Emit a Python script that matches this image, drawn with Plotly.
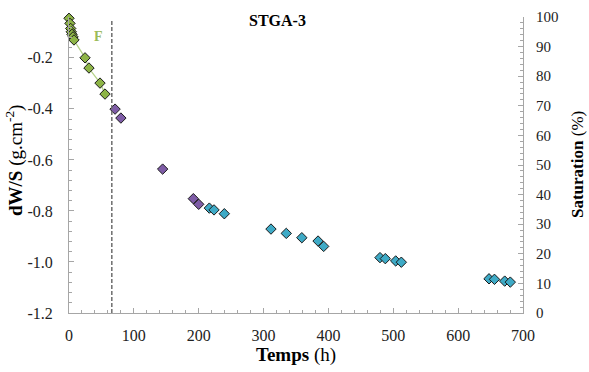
import plotly.graph_objects as go

# --- Data ---
green_t = [0, 1.5, 2.6, 3.5, 4.6, 6.2, 7.7, 24.7, 30.8, 47.8, 55.5]
green_dw = [-0.045, -0.065, -0.085, -0.098, -0.108, -0.118, -0.130, -0.200, -0.240, -0.299, -0.342]

purple_t = [71, 80, 144.4, 191.7, 200]
purple_dw = [-0.401, -0.436, -0.636, -0.752, -0.774]

cyan_t = [216.4, 223.6, 239.5, 311.4, 335, 359, 384, 392.7,
          479.5, 487.7, 503.7, 512.4, 647.6, 656, 671.8, 680.4]
cyan_dw = [-0.789, -0.796, -0.811, -0.871, -0.888, -0.905, -0.918, -0.939,
           -0.983, -0.987, -0.996, -1.001, -1.066, -1.068, -1.075, -1.079]

F_END = 66  # end of phase F (dashed line)
F_LABEL_T, F_LABEL_DW = 46, -0.118

y_ticks = [-0.2, -0.4, -0.6, -0.8, -1.0, -1.2]
y_ticktext = ["-0.2", "-0.4", "-0.6", "-0.8", "-1.0", "-1.2"]

FONT = "Liberation Serif"
AXIS_GRAY = "#a6a6a6"

fig = go.Figure()

fig.add_trace(go.Scatter(
    x=green_t, y=green_dw, mode="lines+markers", cliponaxis=False,
    line=dict(color="#b5d38a", width=1.3, shape="spline", smoothing=0.6),
    marker=dict(symbol="diamond", size=8, color="#8db446",
                line=dict(color="#1a1a1a", width=1)),
    showlegend=False))

fig.add_trace(go.Scatter(
    x=purple_t, y=purple_dw, mode="markers", cliponaxis=False,
    marker=dict(symbol="diamond", size=8, color="#7e5ca6",
                line=dict(color="#1a1a1a", width=1)),
    showlegend=False))

fig.add_trace(go.Scatter(
    x=cyan_t, y=cyan_dw, mode="markers", cliponaxis=False,
    marker=dict(symbol="diamond", size=8, color="#3eaac6",
                line=dict(color="#1a1a1a", width=1)),
    showlegend=False))

# invisible trace to activate the secondary axis
fig.add_trace(go.Scatter(x=[None], y=[None], yaxis="y2", showlegend=False,
                         hoverinfo="skip"))

fig.add_shape(type="line", xref="x", yref="paper", x0=F_END, x1=F_END,
              y0=0, y1=0.987,
              line=dict(color="#6e6e6e", width=1.5, dash="4px,2px"))

fig.add_annotation(x=F_LABEL_T, y=F_LABEL_DW, text="<b>F</b>", showarrow=False,
                   font=dict(family=FONT, size=14, color="#9bbb59"))

fig.add_annotation(xref="paper", yref="paper", x=0.46, y=1.0, yanchor="middle",
                   yshift=-3, text="<b>STGA-3</b>", showarrow=False,
                   font=dict(family=FONT, size=16, color="black"))

# axis titles
fig.add_annotation(xref="paper", yref="paper", x=0.5, y=0, yanchor="middle",
                   yshift=-42, text="<b>Temps</b> (h)", showarrow=False,
                   font=dict(family=FONT, size=19, color="black"))
fig.add_annotation(xref="paper", yref="paper", x=0, y=0.5, xanchor="center",
                   yanchor="middle", xshift=-55, yshift=4, textangle=-90,
                   text="<b>dW/S</b> (g.cm<sup>-2</sup>)", showarrow=False,
                   font=dict(family=FONT, size=19, color="black"))
fig.add_annotation(xref="paper", yref="paper", x=1, y=0.5, xanchor="center",
                   yanchor="middle", xshift=54, textangle=-90,
                   text="<b>Saturation</b> (%)", showarrow=False,
                   font=dict(family=FONT, size=17, color="black"))

axis_common = dict(showgrid=False, zeroline=False, showline=True,
                   linecolor=AXIS_GRAY, linewidth=1, ticks="inside",
                   tickcolor=AXIS_GRAY, ticklen=5, automargin=False)

fig.update_layout(
    width=589, height=372,
    margin=dict(l=69, r=66, t=17, b=59),
    paper_bgcolor="white", plot_bgcolor="white",
    font=dict(family=FONT, color="black"),
    xaxis=dict(range=[0, 700], dtick=100, tick0=0,
               minor=dict(dtick=20, ticks="inside", ticklen=3, tickcolor=AXIS_GRAY),
               tickfont=dict(family=FONT, size=16, color="#222"),
               ticklabelstandoff=8,
               **axis_common),
    yaxis=dict(range=[-1.2, -0.04], tickvals=y_ticks, ticktext=y_ticktext,
               minor=dict(dtick=0.04, tick0=0, ticks="inside", ticklen=3,
                          tickcolor=AXIS_GRAY),
               tickfont=dict(family=FONT, size=16, color="#222"),
               ticklabelstandoff=12,
               **axis_common),
    yaxis2=dict(overlaying="y", side="right", range=[0, 100], dtick=10,
                minor=dict(dtick=2, ticks="inside", ticklen=3, tickcolor=AXIS_GRAY),
                tickfont=dict(family=FONT, size=15, color="#222"),
                ticklabelstandoff=9,
                **axis_common),
)

fig.write_html("out.html", config={"displayModeBar": False},
               post_script="document.body.style.margin='0px';document.body.style.padding='0px';")
